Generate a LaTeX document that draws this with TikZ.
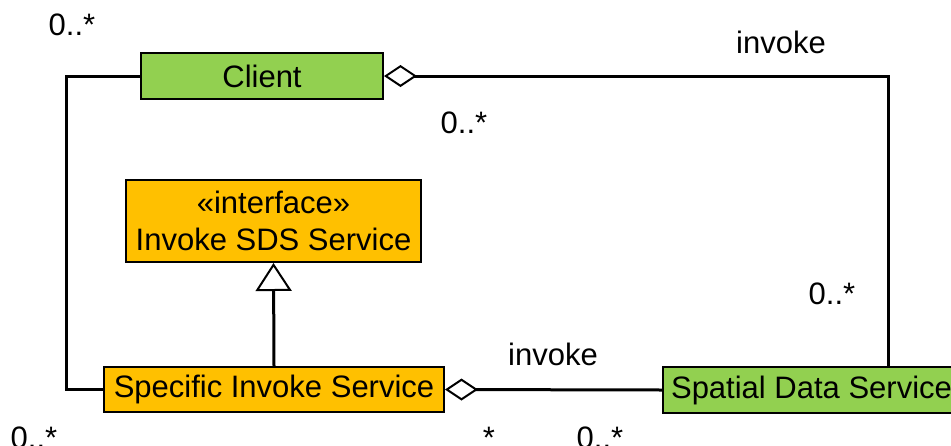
\documentclass[tikz,border=0pt]{standalone}
\usepackage{fontspec}
\setmainfont{Liberation Sans}
\usetikzlibrary{arrows.meta}
\definecolor{umlgreen}{HTML}{92D050}
\definecolor{umlorange}{HTML}{FFC000}
\begin{document}
\begin{tikzpicture}[x=1pt,y=-1pt,
  every node/.style={font=\fontsize{31}{37}\selectfont, inner sep=0pt},
  classbox/.style={draw=black, line width=2pt, align=center},
  conn/.style={line width=3pt},
  agg/.style={{Diamond[open, fill=white, length=33pt 0 0, width=22pt 0 0, line width=2pt]}-},
  gen/.style={-{Triangle[open, fill=white, length=28pt 0 0, width=36pt 0 0, line width=2pt]}},
  lbl/.style={}]
\useasboundingbox (0,0) rectangle (951,445);
\clip (0,0) rectangle (951,445);
\node[classbox, fill=umlgreen, minimum width=242pt, minimum height=46pt] (client) at (262,76) {Client};
\node[classbox, fill=umlorange, minimum width=295pt, minimum height=82pt] (iface) at (273.5,221) {«interface»\\Invoke SDS Service};
\node[classbox, fill=umlorange, minimum width=340pt, minimum height=45pt] (sis) at (274,389.5) {Specific Invoke Service};
\node[classbox, fill=umlgreen, minimum width=297pt, minimum height=46pt] (sds) at (811.5,390) {Spatial Data Service};
\coordinate (cr) at (888,76);
\coordinate (cl) at (66,76);
\draw[conn, agg] (client.east) -- (cr) -- (cr |- sds.north);
\draw[conn] (client.west) -- (cl) |- (sis.west);
\draw[conn, gen] (sis.north) -- (iface.south);
\draw[conn, agg] (sis.east) -- (sds.west);
\node[lbl] (m1) at (72,25) {0..*};
\node[lbl] (inv1) at (781,42) {invoke};
\node[lbl] (m2) at (464,123) {0..*};
\node[lbl] (m3) at (832,294) {0..*};
\node[lbl] (inv2) at (553,354) {invoke};
\node[lbl] (m4) at (34,438) {0..*};
\node[lbl] (m5) at (489,438) {*};
\node[lbl] (m6) at (600,438) {0..*};
\end{tikzpicture}
\end{document}
